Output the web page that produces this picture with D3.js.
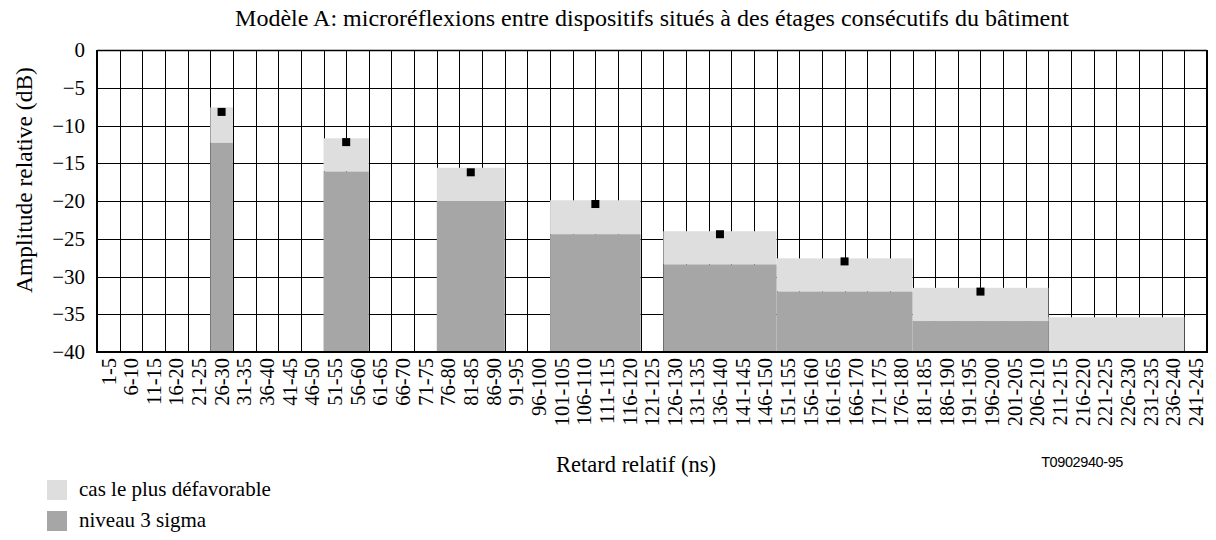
<!DOCTYPE html>
<html>
<head>
<meta charset="utf-8">
<script src="https://cdn.jsdelivr.net/npm/d3@7/dist/d3.min.js"></script>
<style>
  body { margin: 0; background: #fff; }
  text { font-family: "Liberation Serif", "Times New Roman", serif; fill: #000; }
</style>
</head>
<body>
<div id="chart"></div>
<script>
// categories (relative delay bins, ns)
var categories = ["1-5", "6-10", "11-15", "16-20", "21-25", "26-30", "31-35", "36-40", "41-45", "46-50",
    "51-55", "56-60", "61-65", "66-70", "71-75", "76-80", "81-85", "86-90", "91-95", "96-100",
    "101-105", "106-110", "111-115", "116-120", "121-125", "126-130", "131-135", "136-140", "141-145", "146-150",
    "151-155", "156-160", "161-165", "166-170", "171-175", "176-180", "181-185", "186-190", "191-195", "196-200",
    "201-205", "206-210", "211-215", "216-220", "221-225", "226-230", "231-235", "236-240", "241-245"];

// each block spans from groupStart to groupEnd
var groupStart = ["26-30", "51-55", "76-80", "101-105", "126-130", "151-155", "181-185", "211-215"];
var groupEnd = ["26-30", "56-60", "86-90", "116-120", "146-150", "176-180", "206-210", "236-240"];
var worstCase = [-7.6, -11.7, -15.6, -19.9, -24.0, -27.6, -31.5, -35.4];
var sigma3 = [-12.3, -16.1, -20.0, -24.4, -28.4, -32.0, -35.9, -40];
var markers = [-8.2, -12.2, -16.2, -20.4, -24.4, -28.0, -32.0, null];

var yTicks = [0, -5, -10, -15, -20, -25, -30, -35, -40];

var W = 1216, H = 540;
var margin = { top: 50, right: 9, bottom: 188, left: 97 },
    width = W - margin.left - margin.right,
    height = H - margin.top - margin.bottom;

var svg = d3.select("#chart")
    .append("svg")
    .attr("width", W)
    .attr("height", H)

var g = svg.append("g")
    .attr("transform", "translate(" + margin.left + "," + margin.top + ")");

var x = d3.scaleBand()
    .domain(categories)
    .range([0, width])
    .padding(0);

var y = d3.scaleLinear()
    .domain([-40, 0])
    .range([height, 0]);

// grid
g.append("g")
    .selectAll("line")
    .data(categories.slice(1))
    .enter()
    .append("line")
    .attr("x1", function (d) { return Math.round(x(d)) + 0.5; })
    .attr("x2", function (d) { return Math.round(x(d)) + 0.5; })
    .attr("y1", 0)
    .attr("y2", height)
    .style("stroke", "#000")
    .style("stroke-width", 1);

g.append("g")
    .selectAll("line")
    .data(yTicks)
    .enter()
    .append("line")
    .attr("x1", 0)
    .attr("x2", width)
    .attr("y1", function (d) { return Math.round(y(d)) + 0.5; })
    .attr("y2", function (d) { return Math.round(y(d)) + 0.5; })
    .style("stroke", "#000")
    .style("stroke-width", 1);

// bars
var groups = groupStart.map(function (s, i) {
    return { start: s, end: groupEnd[i], worst: worstCase[i], sigma: sigma3[i], mark: markers[i] };
});

function x0(d) { return x(d.start); }
function x1(d) { return x(d.end) + x.bandwidth(); }

g.append("g")
    .selectAll("rect")
    .data(groups)
    .enter()
    .append("rect")
    .attr("x", x0)
    .attr("width", function (d) { return x1(d) - x0(d); })
    .attr("y", function (d) { return y(d.worst); })
    .attr("height", function (d) { return y(d.sigma) - y(d.worst); })
    .attr("fill", "#dedede");

g.append("g")
    .selectAll("rect")
    .data(groups)
    .enter()
    .append("rect")
    .attr("x", x0)
    .attr("width", function (d) { return x1(d) - x0(d); })
    .attr("y", function (d) { return y(d.sigma); })
    .attr("height", function (d) { return y(-40) - y(d.sigma); })
    .attr("fill", "#a6a6a6");

// markers
g.append("g")
    .selectAll("rect")
    .data(groups.filter(function (d) { return d.mark != null; }))
    .enter()
    .append("rect")
    .attr("x", function (d) { return (x0(d) + x1(d)) / 2 - 4; })
    .attr("y", function (d) { return y(d.mark) - 4; })
    .attr("width", 8)
    .attr("height", 8)
    .attr("fill", "#000");

// frame
g.append("line").attr("x1", 0).attr("x2", width).attr("y1", 0.5).attr("y2", 0.5)
    .style("stroke", "#000").style("stroke-width", 1.5);
g.append("line").attr("x1", width).attr("x2", width).attr("y1", 0).attr("y2", height)
    .style("stroke", "#000").style("stroke-width", 2);
g.append("line").attr("x1", 0).attr("x2", 0).attr("y1", 0).attr("y2", height + 1)
    .style("stroke", "#000").style("stroke-width", 2);
g.append("line").attr("x1", 0).attr("x2", width + 1).attr("y1", height).attr("y2", height)
    .style("stroke", "#000").style("stroke-width", 2);

// Y axis labels
var yAxis = g.append("g")
    .call(d3.axisLeft(y).tickValues(yTicks).tickSize(0).tickPadding(12));
yAxis.select(".domain").remove();
yAxis.selectAll("text")
    .style("font-family", "'Liberation Serif', serif")
    .style("font-size", "21px");

// X axis labels
g.append("g")
    .selectAll("text")
    .data(categories)
    .enter()
    .append("text")
    .attr("transform", function (d) {
        return "translate(" + (x(d) + x.bandwidth() / 2) + "," + (height + 6) + ") rotate(-90)";
    })
    .attr("dy", "0.35em")
    .style("text-anchor", "end")
    .style("font-size", "20.5px")
    .text(function (d) { return d; });

// titles
svg.append("text")
    .attr("x", margin.left + width / 2)
    .attr("y", 26)
    .style("text-anchor", "middle")
    .style("font-size", "24px")
    .text("Modèle A: microréflexions entre dispositifs situés à des étages consécutifs du bâtiment");

svg.append("text")
    .attr("transform", "translate(32,180) rotate(-90)")
    .style("text-anchor", "middle")
    .style("font-size", "23.5px")
    .text("Amplitude relative (dB)");

svg.append("text")
    .attr("x", 636)
    .attr("y", 472)
    .style("text-anchor", "middle")
    .style("font-size", "22.5px")
    .text("Retard relatif (ns)");

svg.append("text")
    .attr("x", 1123)
    .attr("y", 467)
    .style("text-anchor", "end")
    .style("font-family", "'Liberation Sans', Arial, sans-serif")
    .style("font-size", "14.5px")
    .style("letter-spacing", "-0.4px")
    .text("T0902940-95");

// legend
var legendLabels = ["cas le plus défavorable", "niveau 3 sigma"];
var legendColors = ["#dedede", "#a6a6a6"];
var legend = svg.append("g")
    .selectAll("g")
    .data(legendLabels)
    .enter()
    .append("g")
    .attr("transform", function (d, i) { return "translate(47," + (480 + i * 31) + ")"; });
legend.append("rect")
    .attr("width", 20)
    .attr("height", 20)
    .attr("fill", function (d, i) { return legendColors[i]; });
legend.append("text")
    .attr("x", 32)
    .attr("y", 16)
    .style("font-size", "21px")
    .text(function (d) { return d; });
</script>
</body>
</html>
